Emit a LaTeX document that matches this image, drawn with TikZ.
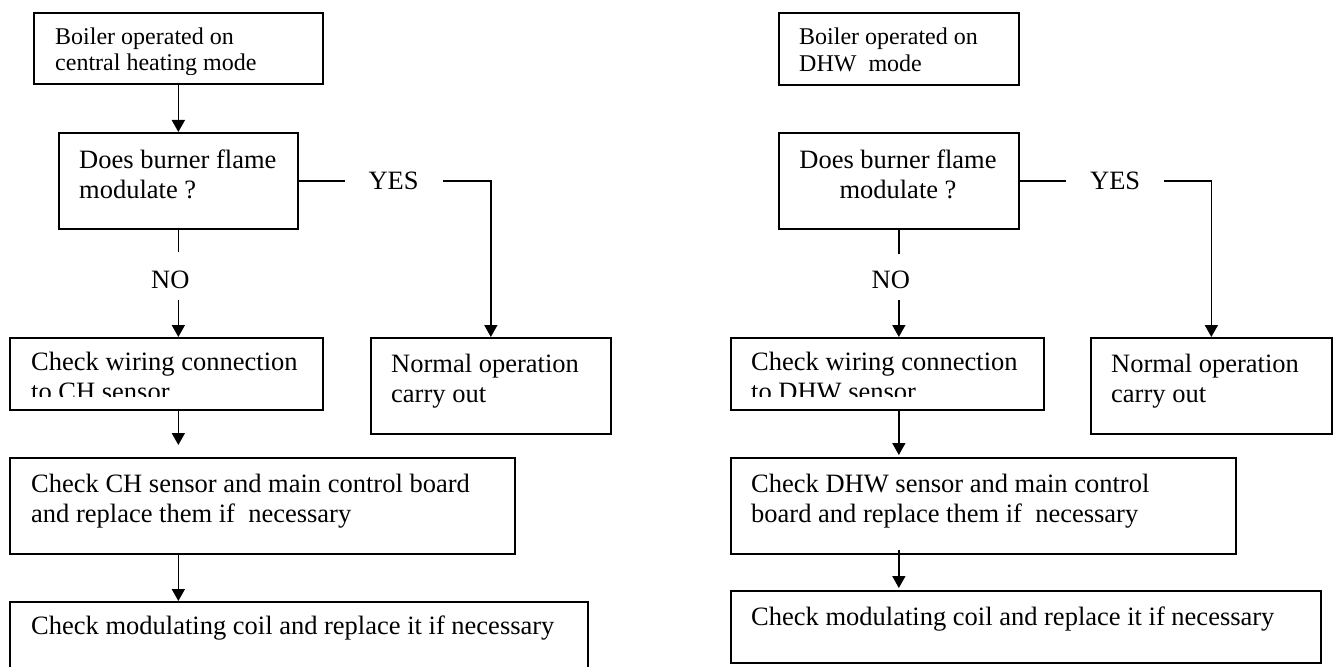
\documentclass[tikz,border=0pt]{standalone}
\usepackage{fontspec}
\setmainfont{Liberation Serif}
\usetikzlibrary{arrows.meta}

\begin{document}
\begin{tikzpicture}[x=1pt, y=-1pt,
  box/.style={draw, line width=1.7pt, anchor=north west, inner sep=0pt},
  txt/.style={anchor=base west, align=left, inner sep=0pt, font=\fontsize{26.5}{30}\selectfont},
  small/.style={anchor=base west, align=left, inner sep=0pt, font=\fontsize{24}{26.5}\selectfont},
  arr/.style={line width=1.7pt, -{Triangle[length=12pt, width=13pt]}},
  answer/.style={fill=white, inner xsep=24pt, inner ysep=2pt, font=\fontsize{26.5}{30}\selectfont}]

\useasboundingbox (0,0) rectangle (1340,666);

% ---- Left chart: central heating mode ----
% Boxes
\node[box, minimum width=289pt, minimum height=71pt] (bootCH) at (33,12) {};
\node[box, minimum width=239pt, minimum height=96pt] (askCH) at (58,132) {};
\node[box, minimum width=240pt, minimum height=96pt] (normCH) at (370,337) {};
\node[box, minimum width=313pt, minimum height=72pt] (wireCH) at (9,337) {};
\node[box, minimum width=505pt, minimum height=96pt] (sensCH) at (9,457) {};
\node[box, minimum width=578pt, minimum height=80pt] (coilCH) at (9,601) {};

% Texts, placed on the baseline of their last line
% (the first and the wiring box cut that line)
\begin{scope}
  \clip (bootCH.north west) rectangle ([yshift=10pt]bootCH.south east);
  \node[small] (bootCHtext) at (55,71) {Boiler operated on\\central heating mode};
\end{scope}
\node[txt] (askCHtext) at (79,198) {Does burner flame\\modulate ?};
\node[txt] (normCHtext) at (391,402) {Normal operation\\carry out};
\begin{scope}
  \clip (wireCH.north west) rectangle ([yshift=14pt]wireCH.south east);
  \node[txt] (wireCHtext) at (31,400) {Check wiring connection\\to CH sensor};
\end{scope}
\node[txt] (sensCHtext) at (31,522) {Check CH sensor and main control board\\and replace them if\ \ necessary};
\node[txt] (coilCHtext) at (31,634) {Check modulating coil and replace it if necessary};

% Arrows
\draw[arr] (bootCH.south) -- (askCH.north);
\draw[arr] (askCH.east) -| (normCH.north) node[answer, pos=0.247] (yesCH) {YES};
\draw[arr] (askCH.south) -- (askCH.south |- wireCH.north)
  node[answer, pos=0.431, xshift=-8pt, inner sep=0pt, text height=37pt, text depth=11pt] (noCH) {NO};
\draw[arr, shorten >=12pt] (askCH.south |- wireCH.south) -- (askCH.south |- sensCH.north);
\draw[arr] (askCH.south |- sensCH.south) -- (askCH.south |- coilCH.north);

% ---- Right chart: DHW mode ----
% Boxes
\node[box, minimum width=240pt, minimum height=72pt] (bootDHW) at (778,12) {};
\node[box, minimum width=240pt, minimum height=96pt] (askDHW) at (778,132) {};
\node[box, minimum width=241pt, minimum height=96pt] (normDHW) at (1090,337) {};
\node[box, minimum width=313pt, minimum height=72pt] (wireDHW) at (730,337) {};
\node[box, minimum width=505pt, minimum height=96pt] (sensDHW) at (730,457) {};
\node[box, minimum width=590pt, minimum height=72pt] (coilDHW) at (730,590) {};

% Texts
\node[small] (bootDHWtext) at (799,71.5) {Boiler operated on\\DHW\ \ mode};
\node[txt, anchor=base, align=center] (askDHWtext) at (898,198) {Does burner flame\\modulate ?};
\node[txt] (normDHWtext) at (1111,402) {Normal operation\\carry out};
\begin{scope}
  \clip (wireDHW.north west) rectangle ([yshift=14pt]wireDHW.south east);
  \node[txt] (wireDHWtext) at (751,400) {Check wiring connection\\to DHW sensor};
\end{scope}
\node[txt] (sensDHWtext) at (751,522) {Check DHW sensor and main control\\board and replace them if\ \ necessary};
\node[txt] (coilDHWtext) at (751,625) {Check modulating coil and replace it if necessary};

% Arrows
\draw[arr] (askDHW.east) -| (normDHW.north) node[answer, pos=0.249] (yesDHW) {YES};
\draw[arr] (askDHW.south) -- (askDHW.south |- wireDHW.north)
  node[answer, pos=0.44, xshift=-8pt, inner sep=0pt, text height=35pt, text depth=11pt] (noDHW) {NO};
\draw[arr, shorten >=2pt] (askDHW.south |- wireDHW.south) -- (askDHW.south |- sensDHW.north);
\draw[arr, shorten <=-5pt, shorten >=2pt] (askDHW.south |- sensDHW.south) -- (askDHW.south |- coilDHW.north);

\end{tikzpicture}
\end{document}
